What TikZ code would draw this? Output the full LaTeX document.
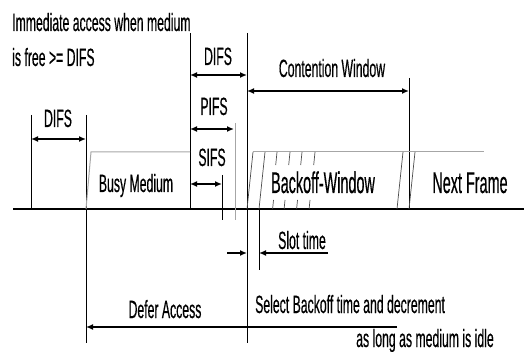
\documentclass[tikz,border=0pt]{standalone}
\usepackage{fontspec}
\newfontfamily\lblfont[FakeStretch=0.49,FakeBold=0.4]{Liberation Sans}
\newfontfamily\biglblfont[FakeStretch=0.48,FakeBold=0.4]{Liberation Sans}
\usetikzlibrary{arrows.meta}
\begin{document}
\begin{tikzpicture}[x=1pt,y=-1pt,
  lbl/.style={font=\lblfont\fontsize{25}{27}\selectfont, inner sep=0pt, anchor=base},
  biglbl/.style={font=\biglblfont\fontsize{30}{32}\selectfont, inner sep=0pt, anchor=base},
  vline/.style={line width=0.9pt, black},
  grayline/.style={line width=1pt, black!35},
  slant/.style={line width=0.7pt, black!70},
  dimarrow/.style={line width=1.5pt, {Latex[length=7pt,width=6pt]}-{Latex[length=7pt,width=6pt]}},
  ptr/.style={line width=1.5pt, -{Latex[length=7pt,width=6pt]}},
  medium/.style={line width=2.6pt, black}]
\useasboundingbox (0,0) rectangle (524,352);

% named coordinates
\coordinate (b0) at (13,209);   \coordinate (b1) at (524,209);
\coordinate (l1t) at (31,115);  \coordinate (l1b) at (31,209);
\coordinate (l2t) at (86,115);  \coordinate (l2b) at (86,343);
\coordinate (l3t) at (190,33);  \coordinate (l3b) at (190,209);
\coordinate (l4t) at (247,33);  \coordinate (l4b) at (247,343);
\coordinate (cwt) at (409,78);  \coordinate (cwb) at (409,209);
\coordinate (pft) at (235,123); \coordinate (pfb) at (235,220);
\coordinate (sft) at (222,175); \coordinate (sfb) at (222,220);
\coordinate (stt) at (259,209); \coordinate (stb) at (259,270);

% medium line
\draw[medium] (b0) -- (b1);

% vertical lines
\draw[vline] (l1t) -- (l1b);
\draw[vline] (l2t) -- (l2b);
\draw[vline] (l3t) -- (l3b);
\draw[vline] (l4t) -- (l4b);
\draw[vline] (cwt) -- (cwb);
\draw[grayline] (pft) -- (pfb);
\draw[vline] (sft) -- (sfb);
\draw[vline] (stt) -- (stb);

% busy medium frame
\draw[grayline] (86,209) -- (91,152) -- (190,152);
% backoff window
\draw[slant] (247,209) -- (253,152);
\draw[slant] (259,209) -- (265,152);
\draw[grayline] (253,152) -- (484,152);
\foreach \x in {277,290,302,315} \draw[slant] (\x,152) -- (\x-1.3,165);
\foreach \x in {273.5,285,297.5,310} \draw[slant] (\x,200) -- (\x-0.9,209);
\draw[slant] (397,209) -- (403,152);
\draw[slant] (409,209) -- (415,152);

% dimension arrows
\draw[dimarrow] (31,139) -- (86,139);
\draw[dimarrow] (190,75) -- (247,75);
\draw[dimarrow] (190,129) -- (234,129);
\draw[dimarrow] (190,184) -- (222,184);
\draw[dimarrow] (247,91) -- (409,91);
\draw[ptr] (227,253) -- (247,253);
\draw[ptr] (328,253) -- (259,253);
\draw[ptr] (397,327) -- (86,327);

% labels
\node[lbl, anchor=base west] (t1) at (12,31) {Immediate access when medium};
\node[lbl, anchor=base west] (t2) at (12,66) {is free >= DIFS};
\node[lbl] (difs1) at (218,65) {DIFS};
\node[lbl] (cw) at (332,77) {Contention Window};
\node[lbl] (pifs) at (214,115) {PIFS};
\node[lbl] (difs0) at (58,127) {DIFS};
\node[lbl] (sifs) at (212,166) {SIFS};
\node[lbl] (busy) at (136,192) {Busy Medium};
\node[biglbl] (bw) at (323,193) {Backoff-Window};
\node[biglbl] (nf) at (470,193) {Next Frame};
\node[lbl] (slot) at (302,249) {Slot time};
\node[lbl, anchor=base west] (sel) at (255,313) {Select Backoff time and decrement};
\node[lbl] (defer) at (165,318) {Defer Access};
\node[lbl] (idle) at (425,347) {as long as medium is idle};
\end{tikzpicture}
\end{document}
